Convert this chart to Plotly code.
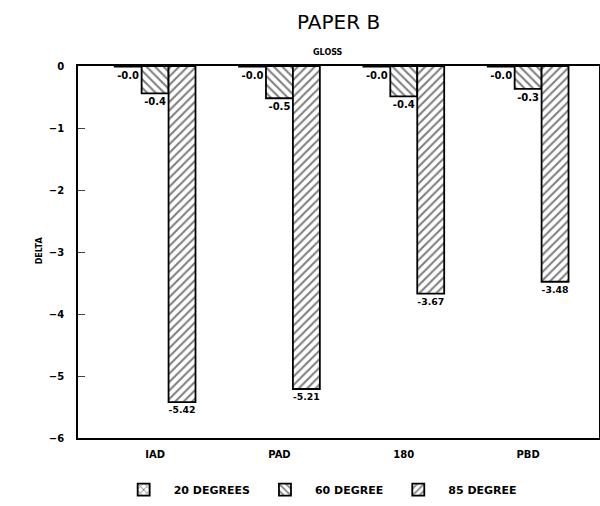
import plotly.graph_objects as go

# categories and values
sites = ['IAD', 'PAD', '180', 'PBD']
deg20 = [-0.01, -0.01, -0.01, -0.01]
deg60 = [-0.44, -0.52, -0.49, -0.37]
deg85 = [-5.42, -5.21, -3.67, -3.48]
deg20_text = ['-0.0', '-0.0', '-0.0', '-0.0']
deg60_text = ['-0.4', '-0.5', '-0.4', '-0.3']
deg85_text = ['-5.42', '-5.21', '-3.67', '-3.48']

font = 'DejaVu Sans'

def bar(name, vals, txt, shape):
    return go.Bar(
        name=name, x=sites, y=vals, text=txt, textposition='outside',
        textfont=dict(family=font, size=10, color='black', weight='bold'),
        cliponaxis=False,
        marker=dict(color='white', line=dict(color='black', width=1.8),
                    pattern=dict(shape=shape, fgcolor='black', bgcolor='white',
                                 size=6, solidity=0.35)),
    )

fig = go.Figure([
    bar('20 DEGREES', deg20, deg20_text, 'x'),
    bar('60 DEGREE', deg60, deg60_text, '\\'),
    bar('85 DEGREE', deg85, deg85_text, '/'),
])

fig.update_layout(
    width=600, height=506,
    paper_bgcolor='white', plot_bgcolor='white',
    margin=dict(l=78, r=1, t=66, b=68),
    barmode='group', bargap=0.35, bargroupgap=0,
    font=dict(family=font, size=10, color='black'),
    showlegend=True,
    legend=dict(orientation='h', x=0.46, xanchor='center', y=-0.1, yanchor='top',
                itemwidth=50,
                font=dict(family=font, size=11, weight='bold'), traceorder='normal'),
)

fig.add_annotation(text='PAPER B', xref='paper', yref='paper', x=0.5, y=1.155,
                   showarrow=False, font=dict(family=font, size=20))
fig.add_annotation(text='<b>GLOSS</b>', xref='paper', yref='paper', x=0.48, y=1.055,
                   showarrow=False, font=dict(family=font, size=8))
fig.add_annotation(text='<b>DELTA</b>', xref='paper', yref='paper', x=-0.087, y=0.505,
                   textangle=-90, showarrow=False, font=dict(family=font, size=8))

fig.update_xaxes(range=[-0.62, 3.57], showline=True, linecolor='black', linewidth=1.8,
                 mirror=True, ticks='', automargin=False, ticklabelstandoff=6,
                 tickfont=dict(family=font, size=10, weight='bold'))
fig.update_yaxes(range=[-6, 0], dtick=1, showline=True, linecolor='black', linewidth=1.8,
                 mirror=True, ticks='inside', ticklen=7, showgrid=False, zeroline=False,
                 automargin=False, ticklabelstandoff=10,
                 tickfont=dict(family=font, size=10, weight='bold'))

# drop the default page margin so the figure sits at the window's corner
fig.write_html('out.html', config={'displayModeBar': False},
               post_script="document.body.style.margin='0';")
